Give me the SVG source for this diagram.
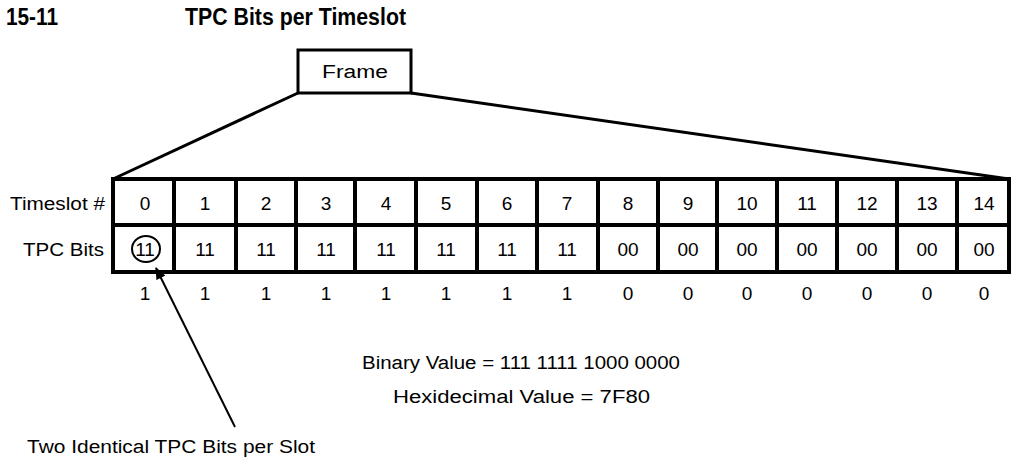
<svg xmlns="http://www.w3.org/2000/svg" width="1011" height="461" viewBox="0 0 1011 461">
<defs>
<style>
.t{font-family:"Liberation Sans",Arial,sans-serif;font-size:18px;fill:#000}
.n{font-family:"Liberation Sans",Arial,sans-serif;font-size:19px;fill:#000;text-anchor:middle}
.c{text-anchor:middle}
.title{font-family:"Liberation Sans Narrow","Liberation Sans",Arial,sans-serif;font-weight:bold;font-size:24px;fill:#000}
.thick{stroke:#000;stroke-width:4;fill:none}
.med{stroke:#000;stroke-width:3;fill:none}
</style>
<marker id="ah" viewBox="0 0 12 10" refX="11" refY="5" markerWidth="12" markerHeight="10" markerUnits="userSpaceOnUse" orient="auto">
<path d="M0,0 L12,5 L0,10 Z" fill="#000"/>
</marker>
</defs>
<rect width="1011" height="461" fill="#fff"/>
<g id="title">
<text class="title" x="6" y="25" textLength="52" lengthAdjust="spacingAndGlyphs">15-11</text>
<text class="title" x="185" y="25" textLength="221" lengthAdjust="spacingAndGlyphs">TPC Bits per Timeslot</text>
</g>
<g id="frame">
<rect class="med" x="298" y="50" width="113" height="43"/>
<text class="t" x="322" y="78" textLength="66" lengthAdjust="spacingAndGlyphs">Frame</text>
</g>
<g id="connectors">
<line class="med" x1="298" y1="93" x2="113" y2="179"/>
<line class="med" x1="411" y1="93" x2="1009" y2="179"/>
<line stroke="#000" stroke-width="2" x1="235" y1="427" x2="156" y2="268" marker-end="url(#ah)"/>
</g>
<g id="table">
<rect class="thick" x="113" y="179" width="896" height="93"/>
<line class="thick" x1="113" y1="225" x2="1009" y2="225"/>
<g class="thick">
<line x1="174" y1="179" x2="174" y2="272"/>
<line x1="236" y1="179" x2="236" y2="272"/>
<line x1="296" y1="179" x2="296" y2="272"/>
<line x1="355" y1="179" x2="355" y2="272"/>
<line x1="416" y1="179" x2="416" y2="272"/>
<line x1="477" y1="179" x2="477" y2="272"/>
<line x1="537" y1="179" x2="537" y2="272"/>
<line x1="598" y1="179" x2="598" y2="272"/>
<line x1="658" y1="179" x2="658" y2="272"/>
<line x1="717" y1="179" x2="717" y2="272"/>
<line x1="777" y1="179" x2="777" y2="272"/>
<line x1="837" y1="179" x2="837" y2="272"/>
<line x1="897" y1="179" x2="897" y2="272"/>
<line x1="957" y1="179" x2="957" y2="272"/>
</g>
</g>
<g id="row-labels">
<text class="t" x="10" y="210" textLength="95" lengthAdjust="spacingAndGlyphs">Timeslot #</text>
<text class="t" x="23" y="256" textLength="81" lengthAdjust="spacingAndGlyphs">TPC Bits</text>
</g>
<g id="timeslots" class="n">
<text x="145" y="210">0</text>
<text x="205" y="210">1</text>
<text x="266" y="210">2</text>
<text x="326" y="210">3</text>
<text x="386" y="210">4</text>
<text x="446" y="210">5</text>
<text x="507" y="210">6</text>
<text x="567" y="210">7</text>
<text x="628" y="210">8</text>
<text x="688" y="210">9</text>
<text x="747" y="210">10</text>
<text x="807" y="210">11</text>
<text x="867" y="210">12</text>
<text x="927" y="210">13</text>
<text x="984" y="210">14</text>
</g>
<g id="tpcbits" class="n">
<text x="145" y="256">11</text>
<text x="205" y="256">11</text>
<text x="266" y="256">11</text>
<text x="326" y="256">11</text>
<text x="386" y="256">11</text>
<text x="446" y="256">11</text>
<text x="507" y="256">11</text>
<text x="567" y="256">11</text>
<text x="628" y="256">00</text>
<text x="688" y="256">00</text>
<text x="747" y="256">00</text>
<text x="807" y="256">00</text>
<text x="867" y="256">00</text>
<text x="927" y="256">00</text>
<text x="984" y="256">00</text>
</g>
<g id="circle">
<ellipse cx="146" cy="249" rx="14" ry="13" stroke="#000" stroke-width="2" fill="none"/>
</g>
<g id="bitvalues" class="n">
<text x="145" y="300">1</text>
<text x="205" y="300">1</text>
<text x="266" y="300">1</text>
<text x="326" y="300">1</text>
<text x="386" y="300">1</text>
<text x="446" y="300">1</text>
<text x="507" y="300">1</text>
<text x="567" y="300">1</text>
<text x="628" y="300">0</text>
<text x="688" y="300">0</text>
<text x="747" y="300">0</text>
<text x="807" y="300">0</text>
<text x="867" y="300">0</text>
<text x="927" y="300">0</text>
<text x="984" y="300">0</text>
</g>
<g id="values">
<text class="t" x="362" y="369" textLength="318" lengthAdjust="spacingAndGlyphs">Binary Value = 111 1111 1000 0000</text>
<text class="t" x="393" y="403" textLength="257" lengthAdjust="spacingAndGlyphs">Hexidecimal Value = 7F80</text>
</g>
<g id="note">
<text class="t" x="27" y="453" textLength="288" lengthAdjust="spacingAndGlyphs">Two Identical TPC Bits per Slot</text>
</g>
</svg>
